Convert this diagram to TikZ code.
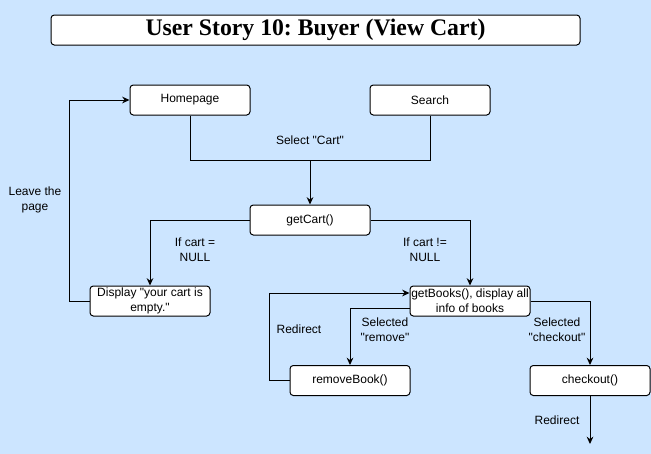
\documentclass[tikz,border=0pt]{standalone}
\usepackage{fontspec}
\setmainfont{Liberation Sans}
\newfontfamily\titlefont{Liberation Serif}
\usetikzlibrary{arrows.meta,calc}
\definecolor{bgblue}{HTML}{CCE5FF}
\newcommand{\qq}{\textquotedbl}
\frenchspacing
\begin{document}
\begin{tikzpicture}[x=0.75pt,y=-0.75pt,
  every node/.style={font=\fontsize{9}{11.25}\selectfont, align=center, inner sep=0pt},
  box/.style={draw, fill=white, rounded corners=2.5pt, minimum width=90pt, minimum height=22.5pt, line width=0.75pt},
  conn/.style={line width=0.75pt, draw=black},
  arr/.style={conn, -{Stealth[length=5.5pt,width=5pt]}},
  lbl/.style={}]
\fill[bgblue] (0,0) rectangle (651,454);
\useasboundingbox (0,0) rectangle (651,454);
\node[box, minimum width=396.75pt, font=\titlefont\bfseries\fontsize{17.8}{20}\selectfont] (title) at (315.5,30) {User Story 10: Buyer (View Cart)};
\node[box] (home) at (190,100) {Homepage};
\node[box] (search) at (430,100) {Search};
\node[box] (getcart) at (310,220) {getCart()};
\node[box] (display) at (150,301) {Display \qq your cart is\\empty.\qq};
\node[box] (getbooks) at (470,301) {getBooks(), display all\\info of books};
\node[box] (remove) at (350,380.5) {removeBook()};
\node[box] (checkout) at (590,380.5) {checkout()};
\coordinate (merge) at (310,160);
\coordinate (end) at (590,444);
\draw[conn] (home.south) |- (merge);
\draw[conn] (search.south) |- (merge);
\draw[arr] (merge) -- (getcart.north);
\draw[arr] (getcart.west) -| (display.north);
\draw[arr] (getcart.east) -| (getbooks.north);
\draw[arr] (display.west) -- ++(-20,0) |- (home.west);
\draw[arr] (getbooks.east) -| (checkout.north);
\draw[arr] ([yshift=-5.25pt]getbooks.west) -| (remove.north);
\draw[arr] (remove.west) -- ++(-20,0) |- ([yshift=6pt]getbooks.west);
\draw[arr] (checkout.south) -- (end);
\node[lbl] (l1) at (310,140) {Select \qq Cart\qq};
\node[lbl] (l2) at (35,200) {Leave the\\page};
\node[lbl] (l3) at (195,250) {If cart =\\NULL};
\node[lbl] (l4) at (425,250) {If cart !=\\NULL};
\node[lbl] (l5) at (385,330) {Selected\\\qq remove\qq};
\node[lbl] (l6) at (299,329) {Redirect};
\node[lbl] (l7) at (557,330) {Selected\\\qq checkout\qq};
\node[lbl] (l8) at (557,420) {Redirect};
\end{tikzpicture}
\end{document}
